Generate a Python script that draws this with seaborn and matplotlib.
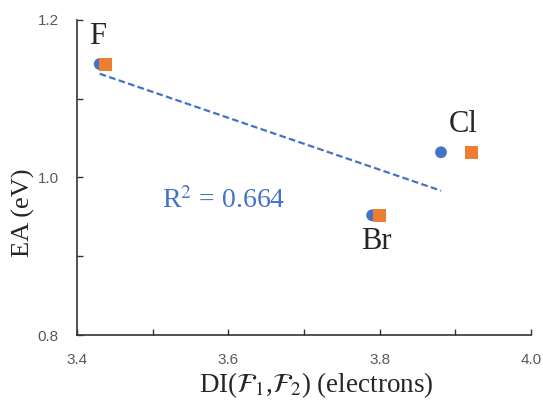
import matplotlib
matplotlib.use("Agg")
import matplotlib.pyplot as plt
import seaborn as sns
import numpy as np
import pandas as pd
from matplotlib.ticker import MultipleLocator

sns.set_style("white")
plt.rcParams['font.family'] = ['Liberation Serif', 'DejaVu Serif']
plt.rcParams['mathtext.fontset'] = 'stix'

labels = ["F", "Cl", "Br"]
di_circle = [3.430, 3.881, 3.790]
ea_circle = [1.144, 1.032, 0.952]
di_square = [3.438, 3.921, 3.800]
ea_square = [1.144, 1.032, 0.952]
r2_text = "R$^2$ = 0.664"
x_ticks = [3.4, 3.6, 3.8, 4.0]
y_ticks = [0.8, 1.0, 1.2]

blue = "#4472C4"
orange = "#ED7D31"
tick_color = "#595959"

df_c = pd.DataFrame({"DI": di_circle, "EA": ea_circle})
df_s = pd.DataFrame({"DI": di_square, "EA": ea_square})

fig = plt.figure(figsize=(5.43, 4.07), dpi=100)
ax = fig.add_axes([0.1418, 0.1769, 0.978 - 0.1418, 0.951 - 0.1769])

sns.regplot(data=df_c, x="DI", y="EA", ax=ax, ci=None, scatter=False,
            line_kws=dict(color=blue, ls=(0, (3, 1.5)), lw=1.6))
sns.scatterplot(data=df_c, x="DI", y="EA", ax=ax, color=blue, marker="o",
                s=72, edgecolor="none", zorder=3)
sns.scatterplot(data=df_s, x="DI", y="EA", ax=ax, color=orange, marker="s",
                s=88, edgecolor="none", zorder=4)

ax.text(3.512, 0.961, r2_text, color=blue, fontsize=20,
        ha="left", va="baseline")

ax.text(3.427, 1.1695, labels[0], fontsize=22, ha="center", va="baseline")
ax.text(3.910, 1.058, labels[1], fontsize=22, ha="center", va="baseline")
ax.text(3.796, 0.909, labels[2], fontsize=22, ha="center", va="baseline")

ax.set_xlim(3.4, 4.0)
ax.set_ylim(0.8, 1.2)
ax.set_xticks(x_ticks)
ax.set_yticks(y_ticks)
ax.xaxis.set_minor_locator(MultipleLocator(0.1))
ax.yaxis.set_minor_locator(MultipleLocator(0.1))
ax.tick_params(axis="both", which="both", direction="in", length=4,
               width=1, color="#333333", left=True, bottom=True)
ax.tick_params(axis="x", which="major", pad=13)
ax.tick_params(axis="y", which="major", pad=13)
ax.set_xticklabels([f"{v:.1f}" for v in x_ticks], family="Liberation Sans",
                   fontsize=11, color=tick_color)
ax.set_yticklabels([f"{v:.1f}" for v in y_ticks], family="Liberation Sans",
                   fontsize=11, color=tick_color)

for s in ["top", "right"]:
    ax.spines[s].set_visible(False)
for s in ["left", "bottom"]:
    ax.spines[s].set_color("#333333")
    ax.spines[s].set_linewidth(1.2)

ax.set_xlabel(r"DI($\mathcal{F}_1$,$\mathcal{F}_2$) (electrons)", fontsize=19.5)
ax.set_ylabel("EA (eV)", fontsize=19)
ax.xaxis.set_label_coords(0.526, -0.159)
ax.xaxis.label.set_va("center")
ax.yaxis.set_label_coords(-0.118, 0.387)
ax.yaxis.label.set_va("center")
ax.grid(False)

fig.savefig("out.png", dpi=100)
